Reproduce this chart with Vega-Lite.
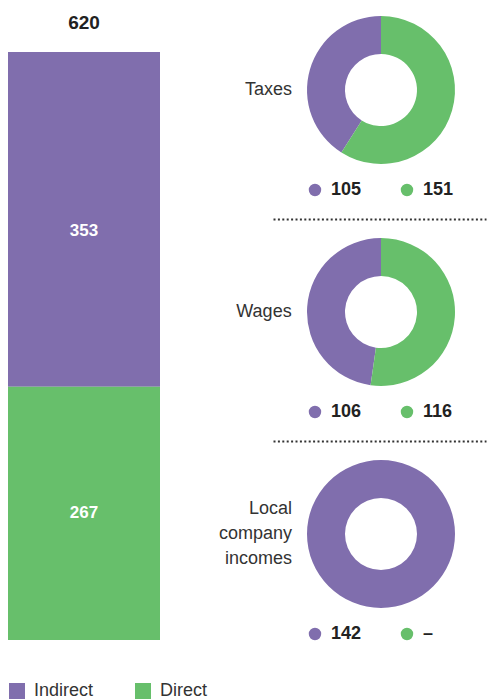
{
  "$schema": "https://vega.github.io/schema/vega-lite/v6.json",
  "background": "white",
  "padding": {"left": 8, "top": 10, "right": 0, "bottom": 0},
  "config": {
    "view": {"stroke": null},
    "font": "Liberation Sans",
    "concat": {"spacing": 0}
  },
  "datasets": {
    "total": [
      {"series": "Total", "type": "Indirect", "value": 353},
      {"series": "Total", "type": "Direct", "value": 267}
    ],
    "items": [
      {"item": "Taxes", "type": "Indirect", "value": 105},
      {"item": "Taxes", "type": "Direct", "value": 151},
      {"item": "Wages", "type": "Indirect", "value": 106},
      {"item": "Wages", "type": "Direct", "value": 116},
      {"item": "Local company incomes", "type": "Indirect", "value": 142},
      {"item": "Local company incomes", "type": "Direct", "value": null}
    ]
  },
  "spacing": 58,
  "hconcat": [
    {
      "width": 152,
      "height": 630,
      "data": {"name": "total"},
      "transform": [
        {"stack": "value", "groupby": ["series"], "sort": [{"field": "type", "order": "ascending"}], "as": ["v0", "v1"]},
        {"calculate": "(datum.v0 + datum.v1) / 2", "as": "mid"}
      ],
      "encoding": {
        "x": {"field": "series", "type": "nominal", "axis": null, "scale": {"paddingInner": 0, "paddingOuter": 0}}
      },
      "layer": [
        {
          "mark": {"type": "bar"},
          "encoding": {
            "y": {"field": "v0", "type": "quantitative", "axis": null, "scale": {"domain": [0, 664.3], "nice": false, "zero": true}},
            "y2": {"field": "v1"},
            "color": {
              "field": "type", "type": "nominal",
              "scale": {"domain": ["Indirect", "Direct"], "range": ["#806EAD", "#67BF6B"]},
              "legend": {
                "orient": "bottom", "direction": "horizontal", "title": null,
                "symbolType": "square", "symbolSize": 256, "symbolStrokeWidth": 0, "symbolOpacity": 1,
                "labelFontSize": 18, "labelColor": "#333", "labelOffset": 8, "labelFont": "Liberation Sans",
                "columnPadding": 40, "offset": 28, "padding": 0
              }
            }
          }
        },
        {
          "mark": {"type": "text", "color": "white", "fontWeight": "bold", "fontSize": 17, "baseline": "middle", "dy": {"expr": "datum.type === 'Indirect' ? 12 : 0"}},
          "encoding": {
            "y": {"field": "mid", "type": "quantitative"},
            "text": {"field": "value", "type": "quantitative"}
          }
        },
        {
          "transform": [{"aggregate": [{"op": "sum", "field": "value", "as": "total"}], "groupby": ["series"]}],
          "mark": {"type": "text", "color": "#222", "fontWeight": "bold", "fontSize": 19, "baseline": "alphabetic", "dy": -23},
          "encoding": {
            "y": {"field": "total", "type": "quantitative"},
            "text": {"field": "total", "type": "quantitative"}
          }
        }
      ]
    },
    {
      "spacing": 13,
      "vconcat": [
        {
          "spacing": 0,
          "vconcat": [
            {
              "width": 216, "height": 160,
              "title": {"text": "Taxes", "orient": "left", "angle": 0, "align": "right", "baseline": "middle", "anchor": "middle", "offset": -66, "fontSize": 18, "fontWeight": "normal", "color": "#333", "lineHeight": 25},
              "data": {"name": "items"},
              "transform": [{"filter": "datum.item === 'Taxes' && datum.value > 0"}],
              "mark": {"type": "arc", "radius": 74, "radius2": 36},
              "encoding": {
                "theta": {"field": "value", "type": "quantitative", "stack": true},
                "color": {"field": "type", "type": "nominal", "legend": null},
                "order": {"field": "type", "sort": "ascending"}
              }
            },
            {
              "width": 213, "height": 40,
              "data": {"name": "items"},
              "transform": [
                {"filter": "datum.item === 'Taxes'"},
                {"calculate": "datum.value === null ? '–' : '' + datum.value", "as": "label"}
              ],
              "encoding": {
                "x": {"field": "type", "type": "nominal", "scale": {"type": "point", "domain": ["Indirect", "Direct"], "padding": 0.6576, "align": 0.347},
                  "axis": {"orient": "bottom", "offset": 9, "domain": true, "domainColor": "#333", "domainDash": [2, 2.4], "domainWidth": 2, "ticks": false, "labels": false, "title": null, "grid": false}}
              },
              "layer": [
                {"mark": {"type": "point", "shape": "circle", "filled": true, "size": 154, "opacity": 1},
                 "encoding": {"color": {"field": "type", "type": "nominal", "legend": null}}},
                {"mark": {"type": "text", "align": "left", "baseline": "middle", "dx": 16, "fontSize": 18, "fontWeight": "bold", "color": "#222"},
                 "encoding": {"text": {"field": "label", "type": "nominal"}}}
              ]
            }
          ]
        },
        {
          "spacing": 0,
          "vconcat": [
            {
              "width": 216, "height": 160,
              "title": {"text": "Wages", "orient": "left", "angle": 0, "align": "right", "baseline": "middle", "anchor": "middle", "offset": -74, "fontSize": 18, "fontWeight": "normal", "color": "#333", "lineHeight": 25},
              "data": {"name": "items"},
              "transform": [{"filter": "datum.item === 'Wages' && datum.value > 0"}],
              "mark": {"type": "arc", "radius": 74, "radius2": 36},
              "encoding": {
                "theta": {"field": "value", "type": "quantitative", "stack": true},
                "color": {"field": "type", "type": "nominal", "legend": null},
                "order": {"field": "type", "sort": "ascending"}
              }
            },
            {
              "width": 213, "height": 40,
              "data": {"name": "items"},
              "transform": [
                {"filter": "datum.item === 'Wages'"},
                {"calculate": "datum.value === null ? '–' : '' + datum.value", "as": "label"}
              ],
              "encoding": {
                "x": {"field": "type", "type": "nominal", "scale": {"type": "point", "domain": ["Indirect", "Direct"], "padding": 0.6576, "align": 0.347},
                  "axis": {"orient": "bottom", "offset": 9, "domain": true, "domainColor": "#333", "domainDash": [2, 2.4], "domainWidth": 2, "ticks": false, "labels": false, "title": null, "grid": false}}
              },
              "layer": [
                {"mark": {"type": "point", "shape": "circle", "filled": true, "size": 154, "opacity": 1},
                 "encoding": {"color": {"field": "type", "type": "nominal", "legend": null}}},
                {"mark": {"type": "text", "align": "left", "baseline": "middle", "dx": 16, "fontSize": 18, "fontWeight": "bold", "color": "#222"},
                 "encoding": {"text": {"field": "label", "type": "nominal"}}}
              ]
            }
          ]
        },
        {
          "spacing": 0,
          "vconcat": [
            {
              "width": 216, "height": 160,
              "title": {"text": ["Local", "company", "incomes"], "orient": "left", "angle": 0, "align": "right", "baseline": "middle", "anchor": "middle", "offset": -92, "dy": -25, "fontSize": 18, "fontWeight": "normal", "color": "#333", "lineHeight": 25},
              "data": {"name": "items"},
              "transform": [{"filter": "datum.item === 'Local company incomes' && datum.value > 0"}],
              "mark": {"type": "arc", "radius": 74, "radius2": 36},
              "encoding": {
                "theta": {"field": "value", "type": "quantitative", "stack": true},
                "color": {"field": "type", "type": "nominal", "legend": null},
                "order": {"field": "type", "sort": "ascending"}
              }
            },
            {
              "width": 213, "height": 40,
              "data": {"name": "items"},
              "transform": [
                {"filter": "datum.item === 'Local company incomes'"},
                {"calculate": "datum.value === null ? '–' : '' + datum.value", "as": "label"}
              ],
              "encoding": {
                "x": {"field": "type", "type": "nominal", "scale": {"type": "point", "domain": ["Indirect", "Direct"], "padding": 0.6576, "align": 0.347}, "axis": null}
              },
              "layer": [
                {"mark": {"type": "point", "shape": "circle", "filled": true, "size": 154, "opacity": 1},
                 "encoding": {"color": {"field": "type", "type": "nominal", "legend": null}}},
                {"mark": {"type": "text", "align": "left", "baseline": "middle", "dx": 16, "fontSize": 18, "fontWeight": "bold", "color": "#222"},
                 "encoding": {"text": {"field": "label", "type": "nominal"}}}
              ]
            }
          ]
        }
      ]
    }
  ]
}
